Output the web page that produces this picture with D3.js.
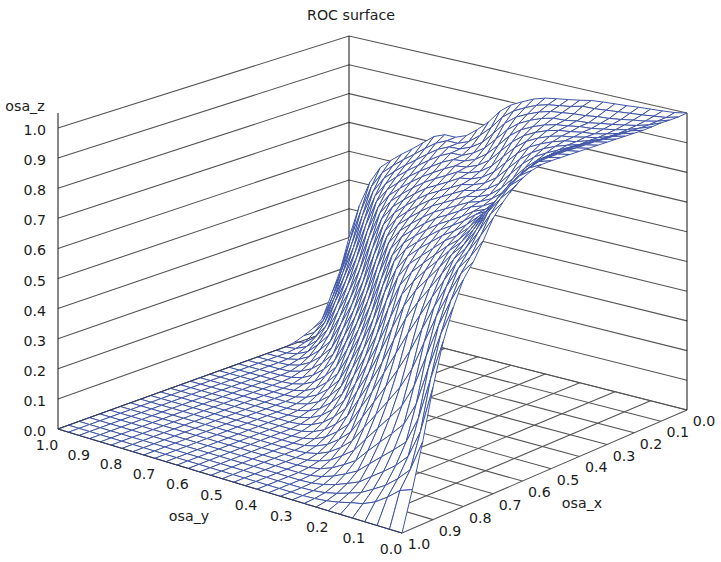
<!DOCTYPE html>
<html>
<head>
<meta charset="utf-8">
<style>
html,body{margin:0;padding:0;background:#fff;}
svg{display:block;}
text{font-family:"DejaVu Sans",sans-serif;font-size:14.2px;fill:#1c1c1c;}
</style>
<script src="https://cdn.jsdelivr.net/npm/d3@7/dist/d3.min.js"></script>
</head>
<body>
<svg id="c" width="721" height="562"></svg>
<script>
const titleText = "ROC surface";
const xTicks = [0,0.1,0.2,0.3,0.4,0.5,0.6,0.7,0.8,0.9,1];
const yTicks = [0,0.1,0.2,0.3,0.4,0.5,0.6,0.7,0.8,0.9,1];
const zTicks = [0,0.1,0.2,0.3,0.4,0.5,0.6,0.7,0.8,0.9,1];
const gridX = [0,.0333,.0667,.1,.1333,.1667,.2,.2333,.2667,.3,.3333,.3667,.4,.4333,.4667,.5,.5333,.5667,.6,.6333,.6667,.7,.7333,.7667,.8,.8333,.8667,.9,.9333,.9667,1];
const gridY = gridX.slice();
// z; one row per gridY value, one column per gridX value.
// Columns left out at the end of a row lie flat on the floor (z = 0).
const zValues = [
[1,.996,.995,.995,.992,.99,.99,.99,.99,.99,.99,.99,.99,.99,.99,.99,.988,.98,.965,.943,.91,.87,.81,.755,.71,.635,.54,.41,.255,.12,0],
[.992,.985,.982,.979,.978,.979,.979,.98,.98,.982,.982,.982,.983,.982,.981,.978,.968,.953,.932,.901,.863,.806,.752,.708,.635,.542,.415,.263,.157,.106,0],
[.988,.98,.973,.968,.964,.961,.961,.961,.964,.964,.965,.965,.963,.961,.956,.944,.928,.909,.883,.849,.796,.746,.704,.635,.546,.425,.279,.174,.118,.074,0],
[.985,.975,.967,.96,.954,.95,.947,.947,.944,.946,.944,.941,.935,.925,.91,.891,.873,.852,.825,.78,.736,.698,.635,.553,.44,.301,.195,.135,.086,.048,0],
[.982,.971,.96,.953,.947,.941,.94,.935,.933,.927,.92,.91,.894,.873,.852,.835,.819,.801,.762,.725,.691,.634,.561,.46,.335,.228,.16,.105,.063,.031,0],
[.978,.967,.954,.947,.94,.937,.931,.928,.92,.908,.894,.872,.842,.817,.799,.786,.774,.744,.713,.684,.634,.57,.481,.366,.262,.187,.127,.078,.041,.023,0],
[.975,.963,.951,.94,.937,.93,.925,.916,.903,.886,.86,.826,.795,.774,.761,.753,.728,.701,.676,.634,.578,.503,.401,.297,.215,.149,.094,.05,.028,.013,0],
[.972,.959,.945,.937,.93,.925,.915,.9,.881,.854,.817,.782,.759,.746,.74,.717,.693,.67,.634,.587,.523,.435,.332,.243,.17,.11,.06,.034,.016,.006,0],
[.968,.958,.942,.93,.925,.915,.9,.88,.85,.812,.775,.751,.737,.73,.71,.688,.667,.633,.593,.54,.462,.361,.268,.19,.125,.069,.04,.019,.007,.002,0],
[.96,.948,.937,.928,.915,.9,.88,.85,.81,.77,.744,.732,.725,.704,.685,.664,.633,.596,.549,.48,.384,.289,.208,.138,.078,.045,.022,.008,.002],
[.953,.942,.932,.918,.9,.88,.85,.81,.77,.743,.728,.72,.702,.682,.662,.633,.599,.557,.496,.399,.3,.218,.148,.085,.05,.024,.009,.002],
[.947,.936,.921,.903,.881,.85,.81,.77,.743,.728,.72,.7,.68,.66,.633,.602,.564,.505,.41,.312,.227,.155,.089,.052,.025,.01,.002],
[.94,.925,.905,.883,.852,.81,.77,.743,.728,.72,.7,.68,.66,.633,.603,.567,.512,.419,.319,.233,.16,.092,.055,.027,.011,.003],
[.928,.908,.886,.853,.811,.77,.743,.728,.72,.7,.68,.66,.633,.603,.57,.515,.424,.323,.238,.164,.095,.057,.028,.011,.003],
[.91,.888,.856,.812,.772,.744,.729,.722,.7,.68,.66,.633,.603,.57,.52,.43,.328,.241,.166,.097,.058,.029,.012,.003],
[.89,.858,.813,.773,.745,.729,.723,.7,.68,.66,.633,.603,.57,.52,.43,.33,.244,.169,.099,.059,.029,.012,.003],
[.86,.814,.773,.747,.73,.724,.702,.68,.66,.633,.603,.57,.52,.43,.33,.245,.17,.1,.06,.03,.012,.003],
[.815,.778,.748,.73,.726,.705,.682,.66,.633,.603,.57,.52,.43,.33,.245,.17,.1,.06,.03,.012,.003],
[.78,.748,.733,.729,.708,.683,.66,.633,.603,.57,.52,.43,.33,.245,.17,.1,.06,.03,.012,.003],
[.75,.733,.731,.711,.684,.66,.633,.603,.57,.52,.43,.33,.245,.17,.1,.06,.03,.012,.003],
[.735,.733,.714,.687,.66,.633,.603,.57,.52,.43,.33,.245,.17,.1,.06,.03,.012,.003],
[.735,.716,.688,.66,.633,.603,.57,.52,.43,.33,.245,.17,.1,.06,.03,.012,.003],
[.72,.689,.66,.633,.603,.57,.52,.43,.33,.245,.17,.1,.06,.03,.012,.003],
[.69,.66,.633,.603,.57,.52,.43,.33,.245,.17,.1,.06,.03,.012,.003],
[.66,.633,.603,.57,.52,.43,.33,.245,.17,.1,.06,.03,.012,.003],
[.633,.603,.57,.518,.43,.33,.245,.17,.1,.06,.03,.012,.003],
[.603,.57,.516,.428,.328,.243,.168,.098,.058,.028,.011,.002],
[.57,.514,.425,.325,.238,.162,.09,.05,.024,.009,.002],
[.51,.422,.32,.23,.15,.08,.042,.02,.007,.001],
[.42,.315,.215,.135,.066,.036,.014,.004],
[.3,.195,.122,.05,.03,.016,.005]
];
const zAt = (j,i) => zValues[j][i] ?? 0;

// linear scales into the unit floor square and the z height fraction
const xs = d3.scaleLinear().domain([0,1]).range([0,1]);
const ys = d3.scaleLinear().domain([0,1]).range([0,1]);
const zs = d3.scaleLinear().domain([0,1]).range([0,1]);

// Screen corners of the 3D box
const corners = {r:[687,410], f:[402,533], l:[58,429], b:[349,324]};
const hgt = {r:297, f:325, l:301, b:288};

function makeHomography(c){
  const p00=c.r,p10=c.f,p11=c.l,p01=c.b;
  const dx1=p10[0]-p11[0],dx2=p01[0]-p11[0],sx=p00[0]-p10[0]+p11[0]-p01[0];
  const dy1=p10[1]-p11[1],dy2=p01[1]-p11[1],sy=p00[1]-p10[1]+p11[1]-p01[1];
  const den=dx1*dy2-dx2*dy1;
  const g=(sx*dy2-dx2*sy)/den,h=(dx1*sy-sx*dy1)/den;
  const a=p10[0]-p00[0]+g*p10[0],b=p01[0]-p00[0]+h*p01[0];
  const d=p10[1]-p00[1]+g*p10[1],e=p01[1]-p00[1]+h*p01[1];
  return (u,v)=>{const w=g*u+h*v+1;return [(a*u+b*v+p00[0])/w,(d*u+e*v+p00[1])/w];};
}
const floorH = makeHomography(corners);
function project(x,y,z){
  const u=xs(x),v=ys(y),t=zs(z);
  const p=floorH(u,v);
  const H=hgt.r*(1-u)*(1-v)+hgt.f*u*(1-v)+hgt.b*(1-u)*v+hgt.l*u*v;
  return [p[0],p[1]-H*t];
}
const line3 = d3.line();
const svg = d3.select("#c");

const wall = svg.append("g").attr("fill","none").attr("stroke","#555").attr("stroke-width",1.1);
// z gridlines on two back walls
wall.selectAll("path.l").data(zTicks).join("path").attr("class","l")
  .attr("d",z=>line3([project(1,1,z),project(0,1,z),project(0,0,z)]));
// floor grid
wall.selectAll("path.fx").data(xTicks).join("path").attr("class","fx")
  .attr("d",x=>line3([project(x,0,0),project(x,1,0)]));
wall.selectAll("path.fy").data(yTicks).join("path").attr("class","fy")
  .attr("d",y=>line3([project(0,y,0),project(1,y,0)]));
// vertical axes
const topOfLeftAxis = 1.05;
const axisLines = [[1,1,0,topOfLeftAxis],[0,1,0,1],[0,0,0,1]];
svg.append("g").attr("stroke","#111").attr("stroke-width",1).attr("fill","none")
  .selectAll("path").data(axisLines).join("path")
  .attr("d",a=>line3([project(a[0],a[1],a[2]),project(a[0],a[1],a[3])]));

// surface quads, painted from the back corner to the front corner
const quads=[];
for(let i=0;i<gridX.length-1;i++){
  for(let j=gridY.length-2;j>=0;j--){
    quads.push([[i,j],[i+1,j],[i+1,j+1],[i,j+1]]);
  }
}
svg.append("g").attr("fill","#fff").attr("stroke","#3f55a5").attr("stroke-width",1).attr("stroke-linejoin","round")
  .selectAll("path").data(quads).join("path")
  .attr("d",q=>line3(q.map(([i,j])=>project(gridX[i],gridY[j],zAt(j,i))))+"Z");

// front floor edges over the surface
svg.append("g").attr("fill","none").attr("stroke","#333a5c").attr("stroke-width",1)
  .selectAll("path").data([[[1,0],[1,1]],[[1,1],[0.12,1]]]).join("path")
  .attr("d",e=>line3(e.map(p=>project(p[0],p[1],0))));

// labels
const fmt = d3.format(".1f");
svg.append("g").selectAll("text").data(zTicks).join("text")
  .attr("text-anchor","end").attr("x",d=>46)
  .attr("y",d=>project(1,1,d)[1]+7).text(fmt);
svg.append("g").selectAll("text").data(yTicks).join("text")
  .attr("text-anchor","middle").attr("x",d=>project(1,d,0)[0]-11)
  .attr("y",d=>project(1,d,0)[1]+21).text(fmt);
svg.append("g").selectAll("text").data(xTicks).join("text")
  .attr("text-anchor","middle").attr("x",d=>project(d,0,0)[0]+17)
  .attr("y",d=>project(d,0,0)[1]+16).text(fmt);

const axisTitles=[{t:"osa_z",x:25,y:111},{t:"osa_y",x:189,y:521},{t:"osa_x",x:582,y:508},{t:titleText,x:351,y:20}];
svg.append("g").selectAll("text").data(axisTitles).join("text")
  .attr("text-anchor","middle").attr("x",d=>d.x).attr("y",d=>d.y).text(d=>d.t);
</script>
</body>
</html>
